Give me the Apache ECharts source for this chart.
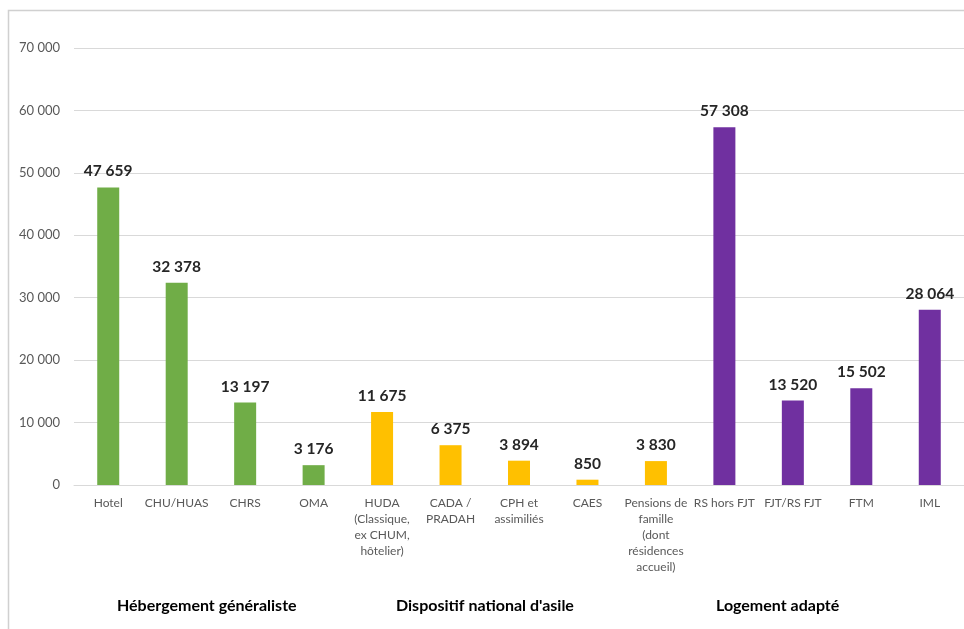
<!DOCTYPE html>
<html>
<head>
<meta charset="utf-8">
<script src="https://cdn.jsdelivr.net/npm/echarts@6/dist/echarts.min.js"></script>
<style>
  html, body { margin: 0; padding: 0; background: #fff; }
  #main { width: 964px; height: 629px; }
</style>
</head>
<body>
<div id="main"></div>
<script type="text/javascript">
    // catégories et valeurs
    var categories = ['Hotel', 'CHU/HUAS', 'CHRS', 'OMA',
        'HUDA\n(Classique,\nex CHUM,\nhôtelier)', 'CADA /\nPRADAH', 'CPH et\nassimiliés', 'CAES',
        'Pensions de\nfamille\n(dont\nrésidences\naccueil)',
        'RS hors FJT', 'FJT/RS FJT', 'FTM', 'IML'];
    var values = [47659, 32378, 13197, 3176, 11675, 6375, 3894, 850, 3830, 57308, 13520, 15502, 28064];
    // groupe de chaque barre
    var groupOf = [0, 0, 0, 0, 1, 1, 1, 1, 1, 2, 2, 2, 2];
    var groupNames = ['Hébergement généraliste', 'Dispositif national d\'asile', 'Logement adapté'];
    var groupColors = ['#70AD47', '#FFC000', '#7030A0'];
    var yTicks = [0, 10000, 20000, 30000, 40000, 50000, 60000, 70000];

    function fmt(v) {
        return String(v).replace(/\B(?=(\d{3})+(?!\d))/g, ' ');
    }

    var barData = values.map(function (v, i) {
        return { value: v, itemStyle: { color: groupColors[groupOf[i]] } };
    });

    var myChart = echarts.init(document.getElementById('main'));
    var font = 'Lato, "Open Sans", sans-serif';

    var option = {
        animation: false,
        textStyle: { fontFamily: font },
        grid: { left: 74, top: 48, width: 893, height: 437 },
        xAxis: {
            type: 'category',
            data: categories,
            axisLine: { lineStyle: { color: '#d9d9d9' } },
            axisTick: { length: 5, lineStyle: { color: '#d9d9d9' } },
            axisLabel: {
                interval: 0, margin: 10, color: '#595959', fontSize: 12,
                lineHeight: 16, fontFamily: font
            }
        },
        yAxis: {
            type: 'value',
            min: yTicks[0],
            max: yTicks[yTicks.length - 1],
            interval: 10000,
            axisLine: { show: false },
            axisTick: { show: false },
            splitLine: { lineStyle: { color: '#d9d9d9' } },
            axisLabel: {
                margin: 14, color: '#595959', fontSize: 13, fontFamily: font,
                formatter: function (v) { return fmt(v); }
            }
        },
        series: [{
            type: 'bar',
            data: barData,
            barWidth: 22,
            label: {
                show: true, position: 'top', distance: 8,
                color: '#262626', fontSize: 15.5, fontWeight: 'bold', fontFamily: font,
                formatter: function (p) { return fmt(p.value); }
            }
        }],
        graphic: [
            {
                type: 'rect', silent: true,
                shape: { x: 8.5, y: 10.5, width: 1000, height: 700 },
                style: { fill: null, stroke: '#d0d0d0', lineWidth: 1.5 }
            },
            {
                type: 'text', left: 117, top: 598,
                style: { text: groupNames[0], font: 'bold 16px ' + font, fill: '#000' }
            },
            {
                type: 'text', left: 396, top: 598,
                style: { text: groupNames[1], font: 'bold 16px ' + font, fill: '#000' }
            },
            {
                type: 'text', left: 716, top: 598,
                style: { text: groupNames[2], font: 'bold 16px ' + font, fill: '#000' }
            }
        ]
    };
    myChart.setOption(option);
</script>
</body>
</html>
